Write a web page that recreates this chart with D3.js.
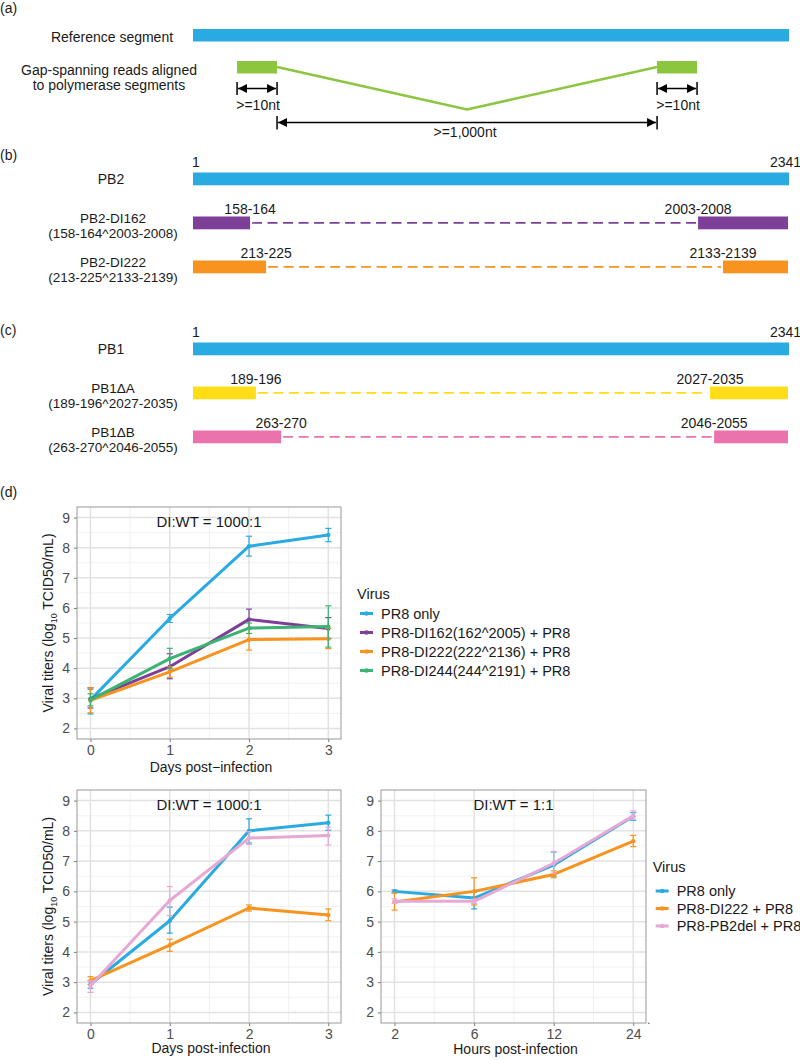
<!DOCTYPE html>
<html><head><meta charset="utf-8">
<script src="https://cdn.jsdelivr.net/npm/d3@7"></script>
<style>
body{margin:0;background:#fff}
svg{display:block;font-family:"Liberation Sans",Arial,Helvetica,sans-serif}
</style>
</head><body>
<svg id="fig" width="800" height="1060"></svg>
<script>
// ---------------- DATA ----------------
// (a) schematic, in nucleotide-like units along the reference segment
const segLength = 2341;
const readBlocksNt = [[174, 331], [1823, 1980]];
const gapDipNt = 1077;
const readLabel = ">=10nt";
const gapLabel = ">=1,000nt";

// (b),(c) segments and deletion variants (drawn extents)
const fullSegments = ["PB2", "PB1"];
const dvgGroup = [0, 0, 1, 1];
const dvgNames = ["PB2-DI162", "PB2-DI222", "PB1\u0394A", "PB1\u0394B"];
const dvgJunctions = ["(158-164^2003-2008)", "(213-225^2133-2139)", "(189-196^2027-2035)", "(263-270^2046-2055)"];
const dvgLeftLabels = ["158-164", "213-225", "189-196", "263-270"];
const dvgRightLabels = ["2003-2008", "2133-2139", "2027-2035", "2046-2055"];
const dvgLeftEndNt = [225, 288, 248, 347];
const dvgRightStartNt = [1984, 2082, 2031, 2047];
const dvgColors = ["#7e3f98", "#f7931e", "#ffde17", "#ea73ad"];

// (d) growth curves
const days = [0, 1, 2, 3];
const hours = ["2", "6", "12", "24"];
const yTicks = [2, 3, 4, 5, 6, 7, 8, 9];

const c1Names = ["PR8 only", "PR8-DI162(162^2005) + PR8", "PR8-DI222(222^2136) + PR8", "PR8-DI244(244^2191) + PR8"];
const c1Colors = ["#29abe2", "#7e3f98", "#f7931e", "#3bb371"];
const c1Mean = [[2.95, 5.65, 8.05, 8.42], [2.98, 4.05, 5.62, 5.32], [2.93, 3.88, 4.95, 4.98], [2.95, 4.32, 5.33, 5.38]];
const c1Lo   = [[2.48, 5.52, 7.72, 8.20], [2.68, 3.65, 5.30, 4.98], [2.52, 3.70, 4.60, 4.65], [2.75, 3.98, 5.15, 4.70]];
const c1Hi   = [[3.30, 5.78, 8.38, 8.64], [3.35, 4.48, 5.96, 5.68], [3.35, 4.05, 5.30, 5.32], [3.15, 4.66, 5.50, 6.07]];

const c2Names = ["PR8 only", "PR8-DI222 + PR8", "PR8-PB2del + PR8"];
const c2Colors = ["#29abe2", "#f7931e", "#e7a9d4"];
const c2Mean = [[2.93, 5.03, 8.00, 8.27], [3.05, 4.22, 5.45, 5.22], [2.88, 5.70, 7.76, 7.85]];
const c2Lo   = [[2.80, 4.62, 7.60, 8.02], [2.92, 4.02, 5.35, 5.03], [2.66, 5.20, 7.55, 7.53]];
const c2Hi   = [[3.05, 5.48, 8.40, 8.52], [3.18, 4.42, 5.55, 5.42], [3.05, 6.16, 7.97, 8.12]];

const c3Mean = [[6.00, 5.78, 6.87, 8.48], [5.65, 6.00, 6.56, 7.66], [5.67, 5.67, 6.93, 8.50]];
const c3Lo   = [[5.95, 5.42, 6.50, 8.35], [5.38, 5.55, 6.45, 7.48], [5.60, 5.60, 6.60, 8.38]];
const c3Hi   = [[6.05, 5.97, 7.30, 8.60], [5.95, 6.45, 6.68, 7.85], [5.75, 5.75, 7.32, 8.66]];

// ---------------- DRAW ----------------
const svg = d3.select("#fig");
const FS = 14;
const xs = d3.scaleLinear().domain([1, segLength]).range([193, 789]);

const defs = svg.append("defs");
defs.append("marker").attr("id", "ah").attr("viewBox", "0 0 10 10")
  .attr("refX", 10).attr("refY", 5).attr("markerWidth", 9).attr("markerHeight", 9)
  .attr("markerUnits", "userSpaceOnUse").attr("orient", "auto-start-reverse")
  .append("path").attr("d", "M0,0 L10,5 L0,10 Z").attr("fill", "#000");

function txt(x, y, s, anchor, size, color) {
  return svg.append("text").attr("x", x).attr("y", y).attr("text-anchor", anchor || "start")
    .attr("font-size", size || FS).attr("fill", color || "#1a1a1a").text(s);
}

// ---- (a)
txt(0, 13, "(a)");
svg.append("rect").attr("x", xs(1)).attr("y", 29).attr("width", xs(segLength) - xs(1)).attr("height", 12.5).attr("fill", "#29abe2");
txt(112, 42, "Reference segment", "middle");
txt(109, 75, "Gap-spanning reads aligned", "middle");
txt(109, 90, "to polymerase segments", "middle");
readBlocksNt.forEach(b => {
  svg.append("rect").attr("x", xs(b[0])).attr("y", 61).attr("width", xs(b[1]) - xs(b[0])).attr("height", 12.5).attr("fill", "#8cc63f");
  [b[0], b[1]].forEach(v => svg.append("line").attr("x1", xs(v)).attr("x2", xs(v)).attr("y1", 82).attr("y2", 95).attr("stroke", "#000").attr("stroke-width", 1.5));
  svg.append("line").attr("x1", xs(b[0]) + 1).attr("x2", xs(b[1]) - 1).attr("y1", 88.5).attr("y2", 88.5)
    .attr("stroke", "#000").attr("stroke-width", 1.5).attr("marker-start", "url(#ah)").attr("marker-end", "url(#ah)");
  txt((xs(b[0]) + xs(b[1])) / 2 + 1, 110, readLabel, "middle");
});
svg.append("path").attr("d", d3.line()([[xs(readBlocksNt[0][1]), 67], [xs(gapDipNt), 109.5], [xs(readBlocksNt[1][0]), 67]]))
  .attr("fill", "none").attr("stroke", "#8cc63f").attr("stroke-width", 2.5);
[readBlocksNt[0][1], readBlocksNt[1][0]].forEach(v => svg.append("line").attr("x1", xs(v)).attr("x2", xs(v)).attr("y1", 116).attr("y2", 129.5).attr("stroke", "#000").attr("stroke-width", 1.5));
svg.append("line").attr("x1", xs(readBlocksNt[0][1]) + 1).attr("x2", xs(readBlocksNt[1][0]) - 1).attr("y1", 122.5).attr("y2", 122.5)
  .attr("stroke", "#000").attr("stroke-width", 1.5).attr("marker-start", "url(#ah)").attr("marker-end", "url(#ah)");
txt(xs(gapDipNt) - 2, 137, gapLabel, "middle");

// ---- (b), (c)
const groupTop = [172.5, 342.5];
const rowStep = 44, barH = 12.8;
txt(0, 160, "(b)");
txt(0, 335, "(c)");
fullSegments.forEach((name, gi) => {
  const top = groupTop[gi];
  svg.append("rect").attr("x", xs(1)).attr("y", top).attr("width", xs(segLength) - xs(1)).attr("height", barH).attr("fill", "#29abe2");
  txt(xs(1) - 1, top - 5.5, "1", "start");
  txt(770, top - 5.5, String(segLength), "start");
  txt(111, top + 11.5, name, "middle");
});
dvgNames.forEach((name, i) => {
  const gi = dvgGroup[i];
  const rowIdx = dvgGroup.slice(0, i).filter(g => g === gi).length + 1;
  const top = groupTop[gi] + rowIdx * rowStep;
  const c = dvgColors[i];
  svg.append("rect").attr("x", xs(1)).attr("y", top).attr("width", xs(dvgLeftEndNt[i]) - xs(1)).attr("height", barH).attr("fill", c);
  svg.append("rect").attr("x", xs(dvgRightStartNt[i])).attr("y", top).attr("width", xs(segLength) - 1 - xs(dvgRightStartNt[i])).attr("height", barH).attr("fill", c);
  svg.append("line").attr("x1", xs(dvgLeftEndNt[i]) + 2).attr("x2", xs(dvgRightStartNt[i]) - 2)
    .attr("y1", top + barH / 2).attr("y2", top + barH / 2)
    .attr("stroke", c).attr("stroke-width", 1.6).attr("stroke-dasharray", "10,5.5");
  txt(xs(dvgLeftEndNt[i]), top - 3, dvgLeftLabels[i], "middle");
  txt(xs(dvgRightStartNt[i]), top - 3, dvgRightLabels[i], "middle");
  txt(113, top + 6, name, "middle", 13.5);
  txt(113, top + 21, dvgJunctions[i], "middle", 13.5);
});

// ---- (d)
txt(0, 497, "(d)");

function drawPanel(f, cfg) {
  const x = d3.scaleLinear().domain([-0.17, 3.16]).range([f.x0, f.x1]);
  const y = d3.scaleLinear().domain([1.65, 9.35]).range([f.y1, f.y0]);
  const g = svg.append("g");
  const xMinor = [0.5, 1.5, 2.5];
  const yMinor = yTicks.slice(0, -1).map(v => v + 0.5);
  g.selectAll(".xm").data(xMinor).join("line").attr("x1", d => x(d)).attr("x2", d => x(d)).attr("y1", f.y0).attr("y2", f.y1).attr("stroke", "#efefef").attr("stroke-width", 0.8);
  g.selectAll(".ym").data(yMinor).join("line").attr("x1", f.x0).attr("x2", f.x1).attr("y1", d => y(d)).attr("y2", d => y(d)).attr("stroke", "#efefef").attr("stroke-width", 0.8);
  g.selectAll(".xg").data(d3.range(4)).join("line").attr("x1", d => x(d)).attr("x2", d => x(d)).attr("y1", f.y0).attr("y2", f.y1).attr("stroke", "#e2e2e2").attr("stroke-width", 1.5);
  g.selectAll(".yg").data(yTicks).join("line").attr("x1", f.x0).attr("x2", f.x1).attr("y1", d => y(d)).attr("y2", d => y(d)).attr("stroke", "#e2e2e2").attr("stroke-width", 1.5);

  const ax = g.append("g").attr("transform", `translate(${f.x0},0)`)
    .call(d3.axisLeft(y).tickValues(yTicks).tickSize(3).tickPadding(4).tickFormat(d3.format("d")));
  const bx = g.append("g").attr("transform", `translate(0,${f.y1})`)
    .call(d3.axisBottom(x).tickValues(d3.range(4)).tickSize(3).tickPadding(3).tickFormat((d, i) => cfg.xLabels[i]));
  [ax, bx].forEach(a => {
    a.attr("font-size", FS).attr("font-family", null);
    a.select(".domain").remove();
    a.selectAll(".tick line").attr("stroke", "#777");
    a.selectAll(".tick text").attr("fill", "#4d4d4d");
  });

  // series
  cfg.mean.forEach((m, si) => {
    const col = cfg.colors[si];
    const pts = m.map((v, i) => [x(cfg.xPos[i]), y(v)]);
    g.append("path").attr("d", d3.line()(pts)).attr("fill", "none").attr("stroke", col).attr("stroke-width", 3).attr("stroke-linejoin", "round");
    m.forEach((v, i) => {
      const cx = x(cfg.xPos[i]);
      g.append("line").attr("x1", cx).attr("x2", cx).attr("y1", y(cfg.lo[si][i])).attr("y2", y(cfg.hi[si][i])).attr("stroke", col).attr("stroke-width", 1.2);
      [cfg.lo[si][i], cfg.hi[si][i]].forEach(e => g.append("line").attr("x1", cx - 3).attr("x2", cx + 3).attr("y1", y(e)).attr("y2", y(e)).attr("stroke", col).attr("stroke-width", 1.2));
      g.append("circle").attr("cx", cx).attr("cy", y(v)).attr("r", 2.2).attr("fill", col);
    });
  });

  g.append("rect").attr("x", f.x0).attr("y", f.y0).attr("width", f.x1 - f.x0).attr("height", f.y1 - f.y0)
    .attr("fill", "none").attr("stroke", "#999").attr("stroke-width", 1);

  const cx = (f.x0 + f.x1) / 2;
  txt(cx, f.y0 + 20, cfg.title, "middle", 15, "#1a1a1a");
  txt(cx + 2, cfg.xTitleY, cfg.xTitle, "middle", FS, "#1a1a1a");
  if (cfg.yTitle) {
    const t = svg.append("text").attr("transform", `translate(53,${(f.y0 + f.y1) / 2}) rotate(-90)`)
      .attr("text-anchor", "middle").attr("font-size", FS).attr("fill", "#1a1a1a");
    t.append("tspan").text("Viral titers (log");
    t.append("tspan").attr("font-size", 9).attr("dy", 4).text("10");
    t.append("tspan").attr("dy", -4).text(" TCID50/mL)");
  }
}

function drawLegend(lx, titleY, itemY0, step, names, colors) {
  txt(lx, titleY, "Virus", "start", 14.5, "#1a1a1a");
  names.forEach((n, i) => {
    const cy = itemY0 + i * step;
    svg.append("line").attr("x1", lx + 3).attr("x2", lx + 16).attr("y1", cy).attr("y2", cy).attr("stroke", colors[i]).attr("stroke-width", 3);
    svg.append("circle").attr("cx", lx + 9.5).attr("cy", cy).attr("r", 2.3).attr("fill", colors[i]);
    txt(lx + 24, cy + 5.3, n, "start", 14.5, "#1a1a1a");
  });
}

drawPanel({x0: 77, x1: 341, y0: 507, y1: 739}, {
  xPos: days, xLabels: days.map(String), mean: c1Mean, lo: c1Lo, hi: c1Hi, colors: c1Colors,
  title: "DI:WT = 1000:1", xTitle: "Days post\u2212infection", xTitleY: 772, yTitle: true
});
drawLegend(357, 598.5, 613.5, 19, c1Names, c1Colors);

drawPanel({x0: 77, x1: 341, y0: 790, y1: 1023}, {
  xPos: days, xLabels: days.map(String), mean: c2Mean, lo: c2Lo, hi: c2Hi, colors: c2Colors,
  title: "DI:WT = 1000:1", xTitle: "Days post-infection", xTitleY: 1053, yTitle: true
});
drawPanel({x0: 381, x1: 646, y0: 790, y1: 1023}, {
  xPos: d3.range(hours.length), xLabels: hours, mean: c3Mean, lo: c3Lo, hi: c3Hi, colors: c2Colors,
  title: "DI:WT = 1:1", xTitle: "Hours post-infection", xTitleY: 1054, yTitle: false
});
drawLegend(652.7, 872, 891, 17.5, c2Names, c2Colors);
txt(647, 1024, ".", "start", 12, "#555");
</script>
</body></html>
